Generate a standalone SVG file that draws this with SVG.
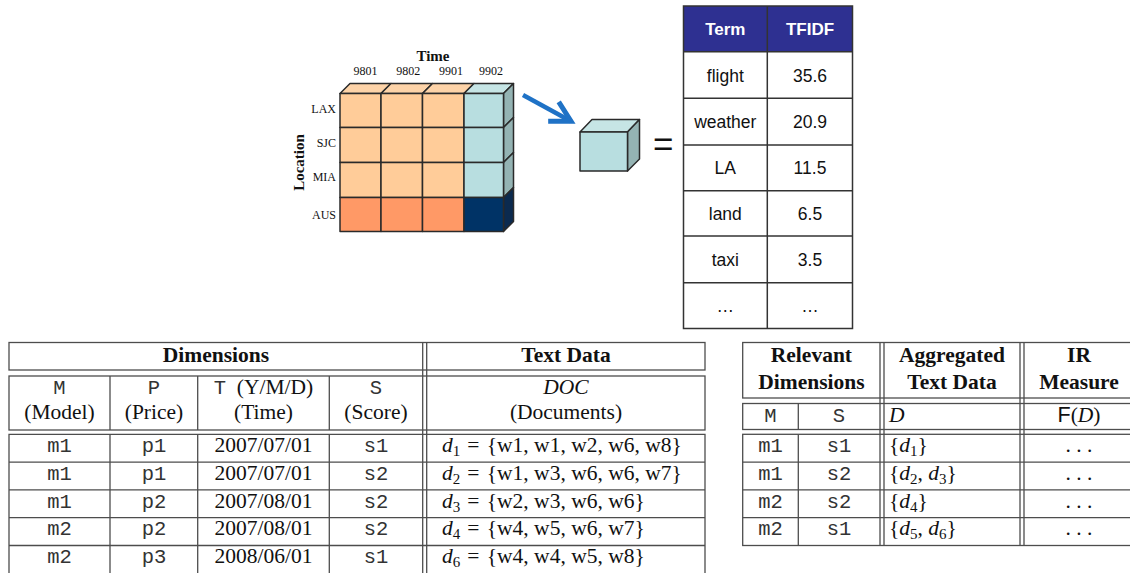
<svg xmlns="http://www.w3.org/2000/svg" width="1130" height="573" viewBox="0 0 1130 573">
  <style>
    .edge { stroke: #2a2a2a; stroke-width: 1.5; stroke-linejoin: round; }
    .peach { fill: #ffcc99; }
    .peach-top { fill: #fdd3a8; }
    .salmon { fill: #ff9966; }
    .aqua { fill: #b8dee0; }
    .aqua-top { fill: #c6e5e5; }
    .aqua-side { fill: #94b3b3; }
    .navy { fill: #003366; }
    .navy-side { fill: #0b2a4f; }
    .lbl { font-family: "Liberation Serif", serif; font-size: 12px; fill: #111; }
    .lbl-b { font-family: "Liberation Serif", serif; font-size: 15px; font-weight: bold; fill: #111; }
    .grid { stroke: #333; stroke-width: 1.5; fill: none; }
    .th { font-family: "Liberation Sans", Arial, sans-serif; font-size: 17px; font-weight: bold; fill: #fff; text-anchor: middle; }
    .td { font-family: "Liberation Sans", Arial, sans-serif; font-size: 17.5px; fill: #111; text-anchor: middle; }
    .rule { stroke: #4d4d4d; stroke-width: 1.3; fill: none; }
    .tx { font-family: "Liberation Serif", serif; font-size: 21.5px; fill: #111; }
    .b { font-weight: bold; }
    .tt { font-family: "Liberation Mono", monospace; font-size: 20.5px; fill: #333; }
    .it { font-style: italic; }
    .sf { font-family: "Liberation Sans", sans-serif; }
    .sub { font-size: 15px; }
    .c { text-anchor: middle; }
  </style>
  <defs>
    <marker id="head" markerUnits="userSpaceOnUse" markerWidth="34" markerHeight="34" viewBox="-28 -17 34 34" refX="0" refY="0" orient="auto">
      <path d="M-20,-11 L0,0 L-20,11" fill="none" stroke="#1f72c6" stroke-width="5" stroke-linejoin="miter"/>
    </marker>
  </defs>

  <!-- data cube: Location x Time -->
  <g id="data-cube">
    <!-- top faces -->
    <polygon class="edge peach-top" points="340,93.5 350,83.5 391,83.5 381,93.5"/>
    <polygon class="edge peach-top" points="381,93.5 391,83.5 432.5,83.5 422.5,93.5"/>
    <polygon class="edge peach-top" points="422.5,93.5 432.5,83.5 474,83.5 464,93.5"/>
    <polygon class="edge aqua-top" points="464,93.5 474,83.5 513.5,83.5 503.5,93.5"/>
    <!-- right side faces -->
    <polygon class="edge aqua-side" points="503.5,93.5 513.5,83.5 513.5,117.5 503.5,127.5"/>
    <polygon class="edge aqua-side" points="503.5,127.5 513.5,117.5 513.5,152.5 503.5,162.5"/>
    <polygon class="edge aqua-side" points="503.5,162.5 513.5,152.5 513.5,187.5 503.5,197.5"/>
    <polygon class="edge navy-side" points="503.5,197.5 513.5,187.5 513.5,221.5 503.5,231.5"/>
    <!-- front faces -->
    <rect class="edge peach" x="340" y="93.5" width="41" height="34"/>
    <rect class="edge peach" x="381" y="93.5" width="41.5" height="34"/>
    <rect class="edge peach" x="422.5" y="93.5" width="41.5" height="34"/>
    <rect class="edge aqua" x="464" y="93.5" width="39.5" height="34"/>
    <rect class="edge peach" x="340" y="127.5" width="41" height="35"/>
    <rect class="edge peach" x="381" y="127.5" width="41.5" height="35"/>
    <rect class="edge peach" x="422.5" y="127.5" width="41.5" height="35"/>
    <rect class="edge aqua" x="464" y="127.5" width="39.5" height="35"/>
    <rect class="edge peach" x="340" y="162.5" width="41" height="35"/>
    <rect class="edge peach" x="381" y="162.5" width="41.5" height="35"/>
    <rect class="edge peach" x="422.5" y="162.5" width="41.5" height="35"/>
    <rect class="edge aqua" x="464" y="162.5" width="39.5" height="35"/>
    <rect class="edge salmon" x="340" y="197.5" width="41" height="34"/>
    <rect class="edge salmon" x="381" y="197.5" width="41.5" height="34"/>
    <rect class="edge salmon" x="422.5" y="197.5" width="41.5" height="34"/>
    <rect class="edge navy" x="464" y="197.5" width="39.5" height="34"/>
    <!-- axis labels -->
    <text class="lbl-b" x="433" y="61" text-anchor="middle">Time</text>
    <text class="lbl" x="365.5" y="75" text-anchor="middle">9801</text>
    <text class="lbl" x="408.3" y="75" text-anchor="middle">9802</text>
    <text class="lbl" x="451" y="75" text-anchor="middle">9901</text>
    <text class="lbl" x="491" y="75" text-anchor="middle">9902</text>
    <text class="lbl" x="336" y="113" text-anchor="end">LAX</text>
    <text class="lbl" x="336" y="146.5" text-anchor="end">SJC</text>
    <text class="lbl" x="336" y="181" text-anchor="end">MIA</text>
    <text class="lbl" x="336" y="218.5" text-anchor="end">AUS</text>
    <text class="lbl-b" x="0" y="0" text-anchor="middle" font-size="17" transform="translate(303.5,162.5) rotate(-90)">Location</text>
  </g>

  <!-- connectors -->
  <g id="connectors">
    <line x1="523" y1="95" x2="571" y2="121.2" stroke="#1f72c6" stroke-width="4.5" marker-end="url(#head)"/>
  </g>

  <!-- single cell -->
  <g id="cell">
    <polygon class="edge aqua-top" points="580,132 592,119.5 639.5,119.5 627.5,132"/>
    <polygon class="edge aqua-side" points="627.5,132 639.5,119.5 639.5,159 627.5,171"/>
    <rect class="edge aqua" x="580" y="132" width="47.5" height="39"/>
  </g>

  <g id="equals">
    <text x="653" y="155.5" font-family="Liberation Sans, sans-serif" font-size="35" fill="#111">=</text>
  </g>

  <!-- term weights of the cell -->
  <g id="tfidf-table">
    <rect x="683.5" y="6" width="169" height="45.7" fill="#2e3091"/>
    <rect class="grid" x="683.5" y="6" width="169" height="322.5"/>
    <line class="grid" x1="767.3" y1="6" x2="767.3" y2="328.5"/>
    <line class="grid" x1="683.5" y1="51.7" x2="852.5" y2="51.7"/>
    <line class="grid" x1="683.5" y1="98.3" x2="852.5" y2="98.3"/>
    <line class="grid" x1="683.5" y1="145" x2="852.5" y2="145"/>
    <line class="grid" x1="683.5" y1="190.7" x2="852.5" y2="190.7"/>
    <line class="grid" x1="683.5" y1="236" x2="852.5" y2="236"/>
    <line class="grid" x1="683.5" y1="282.7" x2="852.5" y2="282.7"/>
    <text class="th" x="725.3" y="35">Term</text>
    <text class="th" x="810" y="35">TFIDF</text>
    <text class="td" x="725.3" y="81.5">flight</text>
    <text class="td" x="810" y="81.5">35.6</text>
    <text class="td" x="725.3" y="128.2">weather</text>
    <text class="td" x="810" y="128.2">20.9</text>
    <text class="td" x="725.3" y="174.4">LA</text>
    <text class="td" x="810" y="174.4">11.5</text>
    <text class="td" x="725.3" y="219.9">land</text>
    <text class="td" x="810" y="219.9">6.5</text>
    <text class="td" x="725.3" y="265.9">taxi</text>
    <text class="td" x="810" y="265.9">3.5</text>
    <text class="td" x="725.3" y="312">…</text>
    <text class="td" x="810" y="312">…</text>
  </g>

  <!-- fact table: dimensions and documents -->
  <g id="fact-table">
    <rect class="rule" x="9" y="342.5" width="696" height="27.5"/>
    <rect class="rule" x="9" y="376" width="696" height="54"/>
    <polyline class="rule" points="9,580 9,434.3 705,434.3 705,580"/>
    <line class="rule" x1="9" y1="462.1" x2="705" y2="462.1"/>
    <line class="rule" x1="9" y1="489.9" x2="705" y2="489.9"/>
    <line class="rule" x1="9" y1="517.7" x2="705" y2="517.7"/>
    <line class="rule" x1="9" y1="545.5" x2="705" y2="545.5"/>
    <line class="rule" x1="110" y1="376" x2="110" y2="430"/>
    <line class="rule" x1="197.7" y1="376" x2="197.7" y2="430"/>
    <line class="rule" x1="329.3" y1="376" x2="329.3" y2="430"/>
    <line class="rule" x1="110" y1="434.3" x2="110" y2="580"/>
    <line class="rule" x1="197.7" y1="434.3" x2="197.7" y2="580"/>
    <line class="rule" x1="329.3" y1="434.3" x2="329.3" y2="580"/>
    <line class="rule" x1="422.7" y1="342.5" x2="422.7" y2="580"/>
    <line class="rule" x1="426.7" y1="342.5" x2="426.7" y2="580"/>

    <text class="tx b c" x="216" y="362">Dimensions</text>
    <text class="tx b c" x="566" y="362">Text Data</text>

    <text class="tx tt c" x="59.5" y="394">M</text>
    <text class="tx tt c" x="154" y="394">P</text>
    <text class="tx c" x="263.5" y="394" xml:space="preserve"><tspan class="tt">T</tspan>  (Y/M/D)</text>
    <text class="tx tt c" x="376" y="394">S</text>
    <text class="tx it c" x="566" y="394">DOC</text>
    <text class="tx c" x="59.5" y="419">(Model)</text>
    <text class="tx c" x="154" y="419">(Price)</text>
    <text class="tx c" x="263.5" y="419">(Time)</text>
    <text class="tx c" x="376" y="419">(Score)</text>
    <text class="tx c" x="566" y="419">(Documents)</text>

    <text class="tx tt c" x="59.5" y="452">m1</text>
    <text class="tx tt c" x="154" y="452">p1</text>
    <text class="tx c" x="263.5" y="452">2007/07/01</text>
    <text class="tx tt c" x="376" y="452">s1</text>
    <text class="tx" x="442" y="452"><tspan class="it">d</tspan><tspan class="sub" dy="4">1</tspan><tspan dy="-4" dx="7">=</tspan><tspan dx="2" xml:space="preserve"> {w1, w1, w2, w6, w8}</tspan></text>

    <text class="tx tt c" x="59.5" y="479.8">m1</text>
    <text class="tx tt c" x="154" y="479.8">p1</text>
    <text class="tx c" x="263.5" y="479.8">2007/07/01</text>
    <text class="tx tt c" x="376" y="479.8">s2</text>
    <text class="tx" x="442" y="479.8"><tspan class="it">d</tspan><tspan class="sub" dy="4">2</tspan><tspan dy="-4" dx="7">=</tspan><tspan dx="2" xml:space="preserve"> {w1, w3, w6, w6, w7}</tspan></text>

    <text class="tx tt c" x="59.5" y="507.6">m1</text>
    <text class="tx tt c" x="154" y="507.6">p2</text>
    <text class="tx c" x="263.5" y="507.6">2007/08/01</text>
    <text class="tx tt c" x="376" y="507.6">s2</text>
    <text class="tx" x="442" y="507.6"><tspan class="it">d</tspan><tspan class="sub" dy="4">3</tspan><tspan dy="-4" dx="7">=</tspan><tspan dx="2" xml:space="preserve"> {w2, w3, w6, w6}</tspan></text>

    <text class="tx tt c" x="59.5" y="535.4">m2</text>
    <text class="tx tt c" x="154" y="535.4">p2</text>
    <text class="tx c" x="263.5" y="535.4">2007/08/01</text>
    <text class="tx tt c" x="376" y="535.4">s2</text>
    <text class="tx" x="442" y="535.4"><tspan class="it">d</tspan><tspan class="sub" dy="4">4</tspan><tspan dy="-4" dx="7">=</tspan><tspan dx="2" xml:space="preserve"> {w4, w5, w6, w7}</tspan></text>

    <text class="tx tt c" x="59.5" y="563.2">m2</text>
    <text class="tx tt c" x="154" y="563.2">p3</text>
    <text class="tx c" x="263.5" y="563.2">2008/06/01</text>
    <text class="tx tt c" x="376" y="563.2">s1</text>
    <text class="tx" x="442" y="563.2"><tspan class="it">d</tspan><tspan class="sub" dy="4">6</tspan><tspan dy="-4" dx="7">=</tspan><tspan dx="2" xml:space="preserve"> {w4, w4, w5, w8}</tspan></text>
  </g>

  <!-- aggregated table -->
  <g id="agg-table">
    <rect class="rule" x="742.7" y="342.5" width="400" height="55.5"/>
    <rect class="rule" x="742.7" y="403.5" width="400" height="26"/>
    <rect class="rule" x="742.7" y="434.3" width="400" height="111.2"/>
    <line class="rule" x1="742.7" y1="462.1" x2="1142" y2="462.1"/>
    <line class="rule" x1="742.7" y1="489.9" x2="1142" y2="489.9"/>
    <line class="rule" x1="742.7" y1="517.7" x2="1142" y2="517.7"/>
    <line class="rule" x1="798.3" y1="403.5" x2="798.3" y2="429.5"/>
    <line class="rule" x1="798.3" y1="434.3" x2="798.3" y2="545.5"/>
    <line class="rule" x1="880" y1="342.5" x2="880" y2="545.5"/>
    <line class="rule" x1="884" y1="342.5" x2="884" y2="545.5"/>
    <line class="rule" x1="1020" y1="342.5" x2="1020" y2="545.5"/>
    <line class="rule" x1="1024" y1="342.5" x2="1024" y2="545.5"/>

    <text class="tx b c" x="811.4" y="361.5">Relevant</text>
    <text class="tx b c" x="811.4" y="388.5">Dimensions</text>
    <text class="tx b c" x="952" y="361.5">Aggregated</text>
    <text class="tx b c" x="952" y="388.5">Text Data</text>
    <text class="tx b c" x="1079" y="361.5">IR</text>
    <text class="tx b c" x="1079" y="388.5">Measure</text>

    <text class="tx tt c" x="770.5" y="422">M</text>
    <text class="tx tt c" x="839" y="422">S</text>
    <text class="tx it" x="889" y="422">D</text>
    <text class="tx c" x="1079" y="422"><tspan class="sf">F</tspan>(<tspan class="it">D</tspan>)</text>

    <text class="tx tt c" x="770.5" y="452">m1</text>
    <text class="tx tt c" x="839" y="452">s1</text>
    <text class="tx" x="889" y="452">{<tspan class="it">d</tspan><tspan class="sub" dy="4">1</tspan><tspan dy="-4">}</tspan></text>
    <text class="tx c" x="1079" y="452">. . .</text>

    <text class="tx tt c" x="770.5" y="479.8">m1</text>
    <text class="tx tt c" x="839" y="479.8">s2</text>
    <text class="tx" x="889" y="479.8">{<tspan class="it">d</tspan><tspan class="sub" dy="4">2</tspan><tspan dy="-4">, </tspan><tspan class="it">d</tspan><tspan class="sub" dy="4">3</tspan><tspan dy="-4">}</tspan></text>
    <text class="tx c" x="1079" y="479.8">. . .</text>

    <text class="tx tt c" x="770.5" y="507.6">m2</text>
    <text class="tx tt c" x="839" y="507.6">s2</text>
    <text class="tx" x="889" y="507.6">{<tspan class="it">d</tspan><tspan class="sub" dy="4">4</tspan><tspan dy="-4">}</tspan></text>
    <text class="tx c" x="1079" y="507.6">. . .</text>

    <text class="tx tt c" x="770.5" y="535.4">m2</text>
    <text class="tx tt c" x="839" y="535.4">s1</text>
    <text class="tx" x="889" y="535.4">{<tspan class="it">d</tspan><tspan class="sub" dy="4">5</tspan><tspan dy="-4">, </tspan><tspan class="it">d</tspan><tspan class="sub" dy="4">6</tspan><tspan dy="-4">}</tspan></text>
    <text class="tx c" x="1079" y="535.4">. . .</text>
  </g>
</svg>
